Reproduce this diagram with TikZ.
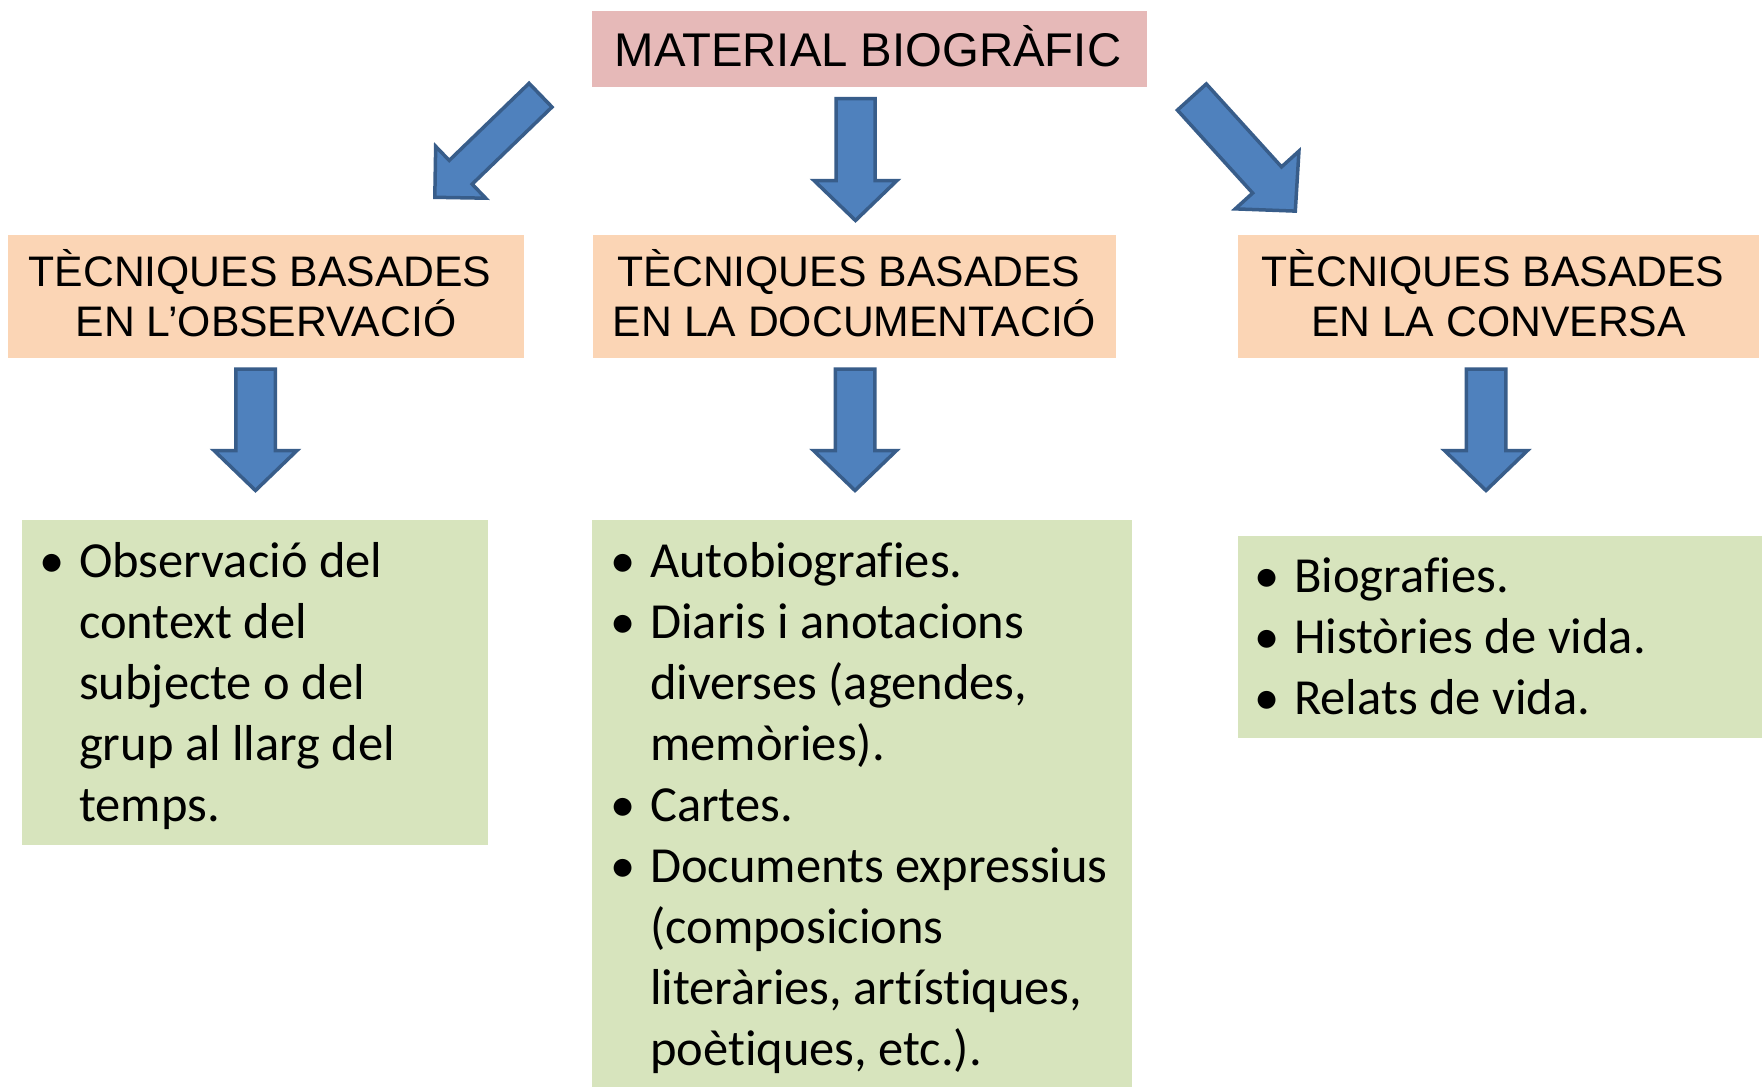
\documentclass[tikz,border=0pt]{standalone}
\usepackage{fontspec}
\newfontfamily\headfont{Liberation Sans}
\newfontfamily\bodyfont[Ligatures=NoCommon]{Carlito}
\definecolor{pinkc}{HTML}{E6B9B8}
\definecolor{peachc}{HTML}{FBD5B5}
\definecolor{greenc}{HTML}{D7E4BD}
\definecolor{arrowfill}{HTML}{4F81BD}
\definecolor{arrowline}{HTML}{385D8A}
\tikzset{
  box/.style={rectangle, inner sep=0pt, outer sep=0pt, draw=none},
  titlebox/.style={box, fill=pinkc},
  headbox/.style={box, fill=peachc},
  listbox/.style={box, fill=greenc},
  titletxt/.style={anchor=base, inner sep=0pt, font=\headfont\fontsize{47.3pt}{56pt}\selectfont},
  headtxt/.style={anchor=base, inner sep=0pt, font=\headfont\fontsize{42.7pt}{50pt}\selectfont},
  bodytxt/.style={anchor=base west, inner sep=0pt, font=\bodyfont\fontsize{50.5pt}{61pt}\selectfont},
  blockarrow/.style={fill=arrowfill, draw=arrowline, line width=3.5pt, line join=miter},
  pics/barrow/.style args={#1/#2/#3/#4}{code={
    \draw[blockarrow] (0,0) -- (-#3,#4) -- (-#3,#2) -- (-#1,#2) -- (-#1,-#2)
      -- (-#3,-#2) -- (-#3,-#4) -- cycle;}}
}
\newcommand{\bul}{\llap{•\hspace{15pt}}}
\begin{document}
\begin{tikzpicture}[x=1pt,y=-1pt]
\useasboundingbox (0,0) rectangle (1762,1087);
\fill[white] (0,0) rectangle (1762,1087);

% boxes
\node[titlebox, minimum width=555pt, minimum height=76pt] (title) at (869.5,49) {};
\node[headbox, minimum width=516pt, minimum height=123pt] (hL) at (266,296.5) {};
\node[headbox, minimum width=523pt, minimum height=123pt] (hM) at (854.5,296.5) {};
\node[headbox, minimum width=521pt, minimum height=123pt] (hR) at (1498.5,296.5) {};
\node[listbox, minimum width=466pt, minimum height=325pt] (gL) at (255,682.5) {};
\node[listbox, minimum width=540pt, minimum height=567pt] (gM) at (862,803.5) {};
\node[listbox, minimum width=524pt, minimum height=202pt] (gR) at (1500,637) {};

% title
\node[titletxt] (ttitle) at (868,66) {MATERIAL BIOGRÀFIC};

% headings
\node[headtxt] (hL1) at (260,286) {TÈCNIQUES BASADES};
\node[headtxt] (hL2) at (266,336) {EN L’OBSERVACIÓ};
\node[headtxt] (hM1) at (849,286) {TÈCNIQUES BASADES};
\node[headtxt] (hM2) at (854.5,336) {EN LA DOCUMENTACIÓ};
\node[headtxt] (hR1) at (1493,286) {TÈCNIQUES BASADES};
\node[headtxt] (hR2) at (1498.5,336) {EN LA CONVERSA};

% left list
\node[bodytxt] (l1) at (79,577) {\bul Observació del};
\node[bodytxt] (l2) at (79,638) {context del};
\node[bodytxt] (l3) at (79,699) {subjecte o del};
\node[bodytxt] (l4) at (79,760) {grup al llarg del};
\node[bodytxt] (l5) at (79,821) {temps.};

% middle list
\node[bodytxt] (m1) at (650,577) {\bul Autobiografies.};
\node[bodytxt] (m2) at (650,638) {\bul Diaris i anotacions};
\node[bodytxt] (m3) at (650,699) {diverses (agendes,};
\node[bodytxt] (m4) at (650,760) {memòries).};
\node[bodytxt] (m5) at (650,821) {\bul Cartes.};
\node[bodytxt] (m6) at (650,882) {\bul Documents expressius};
\node[bodytxt] (m7) at (650,943) {(composicions};
\node[bodytxt] (m8) at (650,1004) {literàries, artístiques,};
\node[bodytxt] (m9) at (650,1065) {poètiques, etc.).};

% right list
\node[bodytxt] (r1) at (1294,592) {\bul Biografies.};
\node[bodytxt] (r2) at (1294,653) {\bul Històries de vida.};
\node[bodytxt] (r3) at (1294,714) {\bul Relats de vida.};

% arrow tips
\coordinate (tL) at (434.8,197.3);
\coordinate (tM) at (855.5,220.5);
\coordinate (tR) at (1295.3,211.1);
\coordinate (bL) at (255.5,490.5);
\coordinate (bM) at (855,490.5);
\coordinate (bR) at (1486,490.5);

\pic[rotate=224] at (tL) {barrow=147/16.5/36/36};
\pic[rotate=-90] at (tM) {barrow=122/19.5/40/41.5};
\pic[rotate=-47.8] at (tR) {barrow=154/19.5/42/43};
\pic[rotate=-90] at (bL) {barrow=121.5/19.75/40/41.5};
\pic[rotate=-90] at (bM) {barrow=121.5/19.75/40/41.5};
\pic[rotate=-90] at (bR) {barrow=121.5/19.75/40/41.5};
\end{tikzpicture}
\end{document}
